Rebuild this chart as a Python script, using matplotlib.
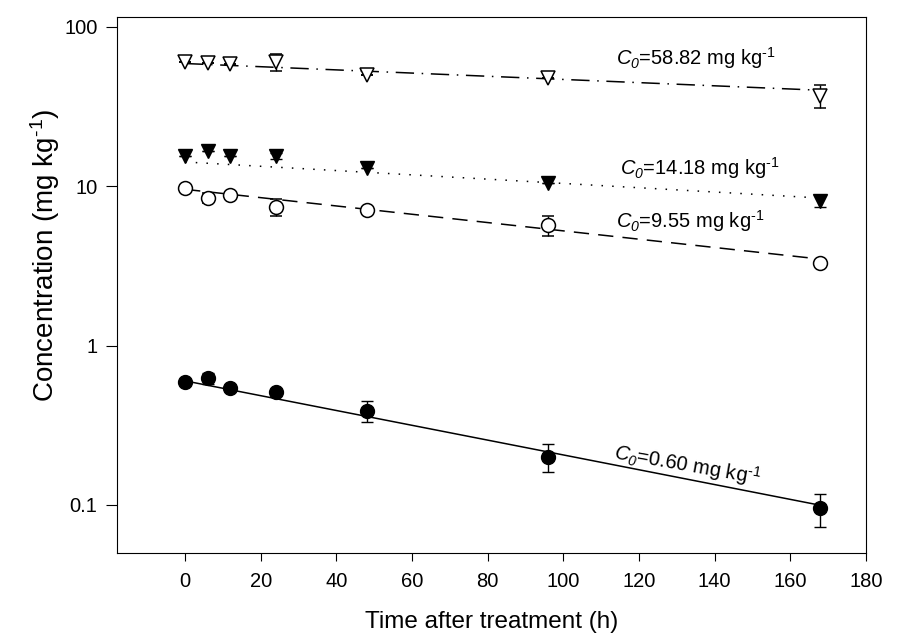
import numpy as np
import matplotlib
matplotlib.use("Agg")
import matplotlib.pyplot as plt

plt.rcParams["font.family"] = ["Liberation Sans", "DejaVu Sans"]
plt.rcParams["mathtext.fontset"] = "custom"
plt.rcParams["mathtext.rm"] = "Liberation Sans"
plt.rcParams["mathtext.it"] = "Liberation Sans:italic"
plt.rcParams["mathtext.sf"] = "Liberation Sans:italic"

# ---------------------------------------------------------------------
# data
# ---------------------------------------------------------------------
t = [0, 6, 12, 24, 48, 96, 168]

open_tri = [60, 59, 58, 60, 50, 48, 37]
open_tri_err = [0, 0, 0, 7.5, 0, 0, 6]

filled_tri = [15.5, 16.5, 15.5, 15.5, 13.0, 10.5, 8.1]
filled_tri_err = [0, 0, 0, 0.6, 0, 0, 0.7]

open_circ = [9.7, 8.4, 8.8, 7.4, 7.1, 5.7, 3.3]
open_circ_err = [0, 0.6, 0, 0.9, 0, 0.8, 0]

filled_circ = [0.59, 0.625, 0.54, 0.51, 0.39, 0.20, 0.095]
filled_circ_err = [0, 0.05, 0, 0, 0.06, 0.04, 0.022]

# first-order fits: C0 and rate constant k (1/h)
c0 = [58.82, 14.18, 9.55, 0.60]
k = [0.0023, 0.0031, 0.0060, 0.0107]
sup = "$^{\u2010\\mathrm{1}}$"
labels = [r"$C_{\mathsf{0}}$=58.82 mg kg" + sup, r"$C_{\mathsf{0}}$=14.18 mg kg" + sup,
          r"$C_{\mathsf{0}}$=9.55 mg kg" + sup, r"$C_{\mathsf{0}}$=0.60 mg kg" + sup]
label_xy = [(114, 64), (115, 13.0), (114, 6.0), (113.5, 0.215)]
label_rot = [0, 0, 0, -10]

fig = plt.figure(figsize=(9, 6.34), dpi=100)
ax = fig.add_axes([0.130, 0.128, 0.832, 0.845])

tt = np.linspace(0, 168, 200)
styles = [(0, (12, 5, 1, 5)), (0, (1, 6)), (0, (10, 6)), "-"]
for i in range(4):
    ax.plot(tt, c0[i] * np.exp(-k[i] * tt), color="black", lw=1.1, ls=styles[i], zorder=1)

eb = dict(color="black", ecolor="black", elinewidth=1, capsize=4, capthick=1, ls="none", zorder=3)
ax.errorbar(t, open_tri, yerr=open_tri_err, marker="v", ms=10, mfc="white", mec="black", mew=1.1, **eb)
ax.errorbar(t, filled_tri, yerr=filled_tri_err, marker="v", ms=10, mfc="black", mec="black", **eb)
ax.errorbar(t, open_circ, yerr=open_circ_err, marker="o", ms=10, mfc="white", mec="black", mew=1.1, **eb)
ax.errorbar(t, filled_circ, yerr=filled_circ_err, marker="o", ms=10, mfc="black", mec="black", **eb)

for lab, (x, y), r in zip(labels, label_xy, label_rot):
    ax.text(x, y, lab, fontsize=14.5, ha="left", va="center", rotation=r,
            rotation_mode="anchor")

ax.set_yscale("log")
ax.set_xlim(-18, 180)
ax.set_ylim(0.05, 115)
ax.set_xticks(range(0, 181, 20))
ax.set_yticks([0.1, 1, 10, 100])
ax.set_yticklabels(["0.1", "1", "10", "100"])
ax.yaxis.set_minor_locator(matplotlib.ticker.NullLocator())
ax.tick_params(direction="out", labelsize=14.5, top=False, right=False)
ax.tick_params(axis="x", length=6, pad=8)
ax.tick_params(axis="y", length=8, pad=6)

ax.set_xlabel("Time after treatment (h)", fontsize=17.5, labelpad=14)
ax.set_ylabel("Concentration (mg kg" + sup + ")", fontsize=20)
ax.yaxis.set_label_coords(-0.073, 0.555)

fig.savefig("out.png", dpi=100)
